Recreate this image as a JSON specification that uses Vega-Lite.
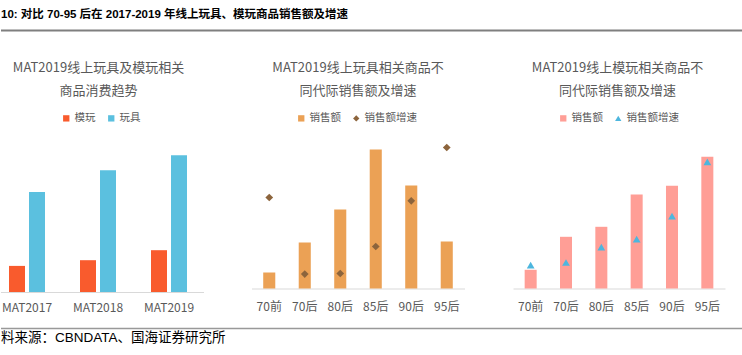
{
  "$schema": "https://vega.github.io/schema/vega-lite/v6.json",
  "padding": {"top": 8.5, "left": 0, "right": 0, "bottom": 0},
  "background": "white",
  "config": {
    "view": {"stroke": null},
    "font": "Noto Sans CJK SC",
    "axis": {"domainColor": "#d9d9d9", "ticks": false, "tickSize": 0, "grid": false, "labelFontSize": 12, "labelColor": "#595959", "labelAngle": 0, "title": null, "labelFont": "Noto Sans CJK SC"},
    "legend": {"labelFontSize": 10.5, "labelColor": "#595959", "symbolSize": 40, "columnPadding": 10, "labelOffset": 3, "padding": 0, "symbolStrokeWidth": 0, "labelFont": "Noto Sans CJK SC"},
    "title": {"fontSize": 13, "fontWeight": "normal", "color": "#595959", "lineHeight": 23, "font": "Noto Sans CJK SC"}
  },
  "spacing": 14,
  "vconcat": [
    {
      "width": 742,
      "height": 17,
      "title": {"text": "10:  对比 70-95 后在 2017-2019 年线上玩具、模玩商品销售额及增速", "anchor": "start", "frame": "group", "font": "Liberation Sans, Noto Sans CJK SC", "fontSize": 11.5, "fontWeight": "bold", "color": "#000000", "offset": 9},
      "data": {"values": [{"level": 1}]},
      "mark": {"type": "rule", "color": "#7f7f7f", "strokeWidth": 2},
      "encoding": {"y": {"field": "level", "type": "quantitative", "scale": {"domain": [0, 1]}, "axis": null}}
    },
    {
      "hconcat": [
        {
          "width": 203,
          "height": 162,
          "title": {"text": ["MAT2019线上玩具及模玩相关", "商品消费趋势"], "frame": "group", "dx": -4, "offset": 15},
          "data": {"values": [
            {"period": "MAT2017", "type": "模玩", "value": 26.6},
            {"period": "MAT2017", "type": "玩具", "value": 100.6},
            {"period": "MAT2018", "type": "模玩", "value": 32.3},
            {"period": "MAT2018", "type": "玩具", "value": 122.3},
            {"period": "MAT2019", "type": "模玩", "value": 42.3},
            {"period": "MAT2019", "type": "玩具", "value": 137.3}
          ]},
          "encoding": {
            "y": {"field": "value", "type": "quantitative", "scale": {"domain": [0, 162]}, "axis": null}
          },
          "layer": [
            {
              "mark": {"type": "bar"},
              "encoding": {
                "x": {"field": "period", "type": "nominal", "sort": null, "scale": {"paddingInner": 0, "paddingOuter": 0, "range": [-9.5, 203.5]}, "axis": {"labelPadding": 10, "domain": false}},
                "xOffset": {"field": "type", "type": "nominal", "sort": ["模玩", "玩具"], "scale": {"paddingInner": 0.2, "paddingOuter": 0.875}},
                "color": {"field": "type", "type": "nominal", "scale": {"domain": ["模玩", "玩具"], "range": ["#F95B2D", "#5BC0DF"]}, "legend": {"title": null, "orient": "none", "direction": "horizontal", "legendX": 60, "legendY": -17.5, "symbolType": "square"}}
              }
            },
            {
              "mark": {"type": "rule", "color": "#d9d9d9", "strokeWidth": 1},
              "encoding": {"y": {"datum": 0, "type": "quantitative"}}
            }
          ]
        },
        {
          "hconcat": [
            {
              "width": 213,
              "height": 158,
              "title": {"text": ["MAT2019线上玩具相关商品不", "同代际销售额及增速"], "frame": "group", "offset": 15},
              "data": {"values": [
                {"gen": "70前", "series": "销售额", "value": 16},
                {"gen": "70后", "series": "销售额", "value": 46},
                {"gen": "80后", "series": "销售额", "value": 79},
                {"gen": "85后", "series": "销售额", "value": 139},
                {"gen": "90后", "series": "销售额", "value": 103},
                {"gen": "95后", "series": "销售额", "value": 47},
                {"gen": "70前", "series": "销售额增速", "value": 91},
                {"gen": "70后", "series": "销售额增速", "value": 14.4},
                {"gen": "80后", "series": "销售额增速", "value": 15},
                {"gen": "85后", "series": "销售额增速", "value": 42},
                {"gen": "90后", "series": "销售额增速", "value": 87.7},
                {"gen": "95后", "series": "销售额增速", "value": 141}
              ]},
              "encoding": {
                "x": {"field": "gen", "type": "nominal", "sort": ["70前", "70后", "80后", "85后", "90后", "95后"], "scale": {"paddingInner": 0.66, "paddingOuter": 0.33}, "axis": {"labelPadding": 13}},
                "y": {"field": "value", "type": "quantitative", "scale": {"domain": [0, 158]}, "axis": null}
              },
              "layer": [
                {
                  "transform": [{"filter": "datum.series === '销售额'"}],
                  "mark": {"type": "bar"},
                  "encoding": {
                    "color": {"field": "series", "type": "nominal", "scale": {"domain": ["销售额", "销售额增速"], "range": ["#EBA155", "#8C643C"]}, "legend": {"title": null, "orient": "none", "direction": "horizontal", "legendX": 44.5, "legendY": -17.5}}
                  }
                },
                {
                  "transform": [{"filter": "datum.series === '销售额增速'"}],
                  "mark": {"type": "point", "filled": true, "opacity": 1, "size": 60},
                  "encoding": {
                    "color": {"field": "series", "type": "nominal", "legend": {"title": null, "orient": "none", "direction": "horizontal", "legendX": 44.5, "legendY": -17.5}},
                    "shape": {"field": "series", "type": "nominal", "scale": {"domain": ["销售额", "销售额增速"], "range": ["square", "diamond"]}, "legend": {"title": null, "orient": "none", "direction": "horizontal", "legendX": 44.5, "legendY": -17.5}}
                  }
                }
              ]
            },
            {
              "width": 212,
              "height": 158,
              "title": {"text": ["MAT2019线上模玩相关商品不", "同代际销售额及增速"], "frame": "group", "dx": -1.5, "offset": 15},
              "data": {"values": [
                {"gen": "70前", "series": "销售额", "value": 18.7},
                {"gen": "70后", "series": "销售额", "value": 51.7},
                {"gen": "80后", "series": "销售额", "value": 61.7},
                {"gen": "85后", "series": "销售额", "value": 94},
                {"gen": "90后", "series": "销售额", "value": 102.7},
                {"gen": "95后", "series": "销售额", "value": 131.7},
                {"gen": "70前", "series": "销售额增速", "value": 23.3},
                {"gen": "70后", "series": "销售额增速", "value": 26},
                {"gen": "80后", "series": "销售额增速", "value": 41.3},
                {"gen": "85后", "series": "销售额增速", "value": 49.3},
                {"gen": "90后", "series": "销售额增速", "value": 72.3},
                {"gen": "95后", "series": "销售额增速", "value": 126.7}
              ]},
              "encoding": {
                "x": {"field": "gen", "type": "nominal", "sort": ["70前", "70后", "80后", "85后", "90后", "95后"], "scale": {"paddingInner": 0.66, "paddingOuter": 0.33}, "axis": {"labelPadding": 13}},
                "y": {"field": "value", "type": "quantitative", "scale": {"domain": [0, 158]}, "axis": null}
              },
              "layer": [
                {
                  "transform": [{"filter": "datum.series === '销售额'"}],
                  "mark": {"type": "bar"},
                  "encoding": {
                    "color": {"field": "series", "type": "nominal", "scale": {"domain": ["销售额", "销售额增速"], "range": ["#FF9E96", "#4DB6DE"]}, "legend": {"title": null, "orient": "none", "direction": "horizontal", "legendX": 45, "legendY": -17.5}}
                  }
                },
                {
                  "transform": [{"filter": "datum.series === '销售额增速'"}],
                  "mark": {"type": "point", "filled": true, "opacity": 1, "size": 60},
                  "encoding": {
                    "color": {"field": "series", "type": "nominal", "legend": {"title": null, "orient": "none", "direction": "horizontal", "legendX": 45, "legendY": -17.5}},
                    "shape": {"field": "series", "type": "nominal", "scale": {"domain": ["销售额", "销售额增速"], "range": ["square", "triangle-up"]}, "legend": {"title": null, "orient": "none", "direction": "horizontal", "legendX": 45, "legendY": -17.5}}
                  }
                }
              ]
            }
          ],
          "spacing": 48.5,
          "align": "none",
          "resolve": {"scale": {"color": "independent", "shape": "independent", "x": "independent", "y": "independent"}, "legend": {"color": "independent", "shape": "independent"}}
        }
      ],
      "spacing": 37.5,
      "align": "none",
      "resolve": {"scale": {"color": "independent", "shape": "independent", "x": "independent", "y": "independent"}, "legend": {"color": "independent", "shape": "independent"}}
    },
    {
      "width": 742,
      "height": 2,
      "title": {"text": "料来源：CBNDATA、国海证券研究所", "orient": "bottom", "anchor": "start", "frame": "group", "font": "Liberation Sans, Noto Sans CJK SC", "fontSize": 13.5, "fontWeight": "normal", "color": "#000000", "offset": 0.5},
      "data": {"values": [{"level": 1}]},
      "mark": {"type": "rule", "color": "#999999", "strokeWidth": 1.5},
      "encoding": {"y": {"field": "level", "type": "quantitative", "scale": {"domain": [0, 1]}, "axis": null}}
    }
  ]
}
